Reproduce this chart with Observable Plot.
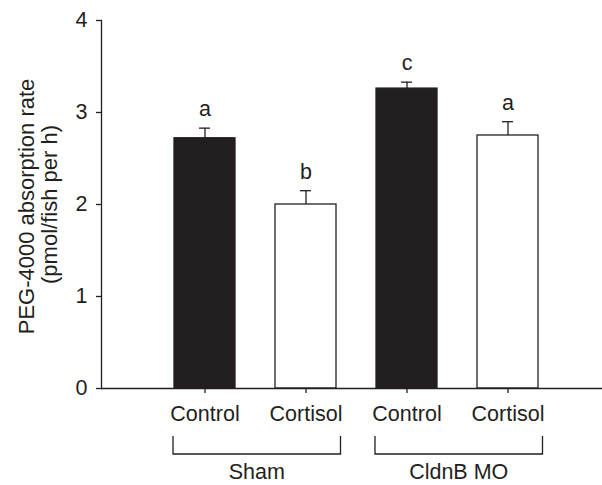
<!DOCTYPE html>
<html><head><meta charset="utf-8">
<script src="https://cdn.jsdelivr.net/npm/d3@7"></script>
<script src="https://cdn.jsdelivr.net/npm/@observablehq/plot@0.6"></script>
<style>body{margin:0;background:#fff}</style>
</head><body><div id="chart"></div>
<script>
// ---- data ----
const groups = ["Sham", "CldnB MO"];
const treatments = ["Control", "Cortisol"];
const means = [2.72, 2.00, 3.26, 2.75];
const sems = [0.11, 0.15, 0.07, 0.15];
const letters = ["a", "b", "c", "a"];
const yTicks = [0, 1, 2, 3, 4];
const yLabelLines = ["PEG-4000 absorption rate", "(pmol/fish per h)"];

const data = means.map((m, i) => ({
  group: groups[Math.floor(i / 2)],
  treatment: treatments[i % 2],
  id: groups[Math.floor(i / 2)] + "|" + treatments[i % 2],
  mean: m,
  top: m + sems[i],
  letter: letters[i]
}));
const ids = data.map(d => d.id);
const INK = "#231f20";
const FS = 21.5;

function brackets(index, scales, values, dimensions) {
  const x = scales.x, y = scales.y, bw = x.bandwidth();
  const y0 = y(0);
  const g = d3.create("svg:g");
  for (const grp of groups) {
    const members = data.filter(d => d.group === grp);
    const x1 = x(members[0].id) - 1, x2 = x(members[members.length - 1].id) + bw + 4.5;
    g.append("path")
      .attr("d", `M${x1},${y0 + 48}V${y0 + 66}H${x2}V${y0 + 48}`)
      .attr("fill", "none").attr("stroke", INK).attr("stroke-width", 1.3);
    g.append("text")
      .attr("x", (x1 + x2) / 2).attr("y", y0 + 91)
      .attr("text-anchor", "middle").attr("fill", INK)
      .attr("font-size", FS)
      .text(grp);
  }
  return g.node();
}

const chart = Plot.plot({
  width: 602,
  height: 485,
  marginLeft: 101,
  marginRight: 0,
  marginTop: 20,
  marginBottom: 97,
  style: {fontFamily: "'Liberation Sans', Arial, Helvetica, sans-serif", fontSize: FS + "px", color: INK, background: "#fff", overflow: "visible"},
  x: {domain: ids, paddingInner: 0.392, paddingOuter: 0.654, align: 0.535},
  y: {domain: [0, 4]},
  marks: [
    Plot.axisY({ticks: yTicks, tickFormat: d => String(d), tickSize: 5, tickPadding: 9, fontSize: FS, label: null, stroke: INK, strokeWidth: 1.3}),
    Plot.axisX({tickSize: 5, tickPadding: 12, fontSize: FS, label: null, tickFormat: id => id.split("|")[1], stroke: INK, strokeWidth: 1.3}),
    Plot.barY(data, {x: "id", y: "mean", fill: d => d.treatment === "Control" ? INK : "#fff", stroke: INK, strokeWidth: 1.3}),
    Plot.ruleX(data, {x: "id", y1: "mean", y2: "top", stroke: INK, strokeWidth: 1.3}),
    Plot.tickY(data, {x: "id", y: "top", stroke: INK, strokeWidth: 1.3, insetLeft: 25, insetRight: 25}),
    Plot.text(data, {x: "id", y: "top", text: "letter", dy: -12, lineAnchor: "bottom", fontSize: FS, fill: INK}),
    Plot.ruleY([0], {stroke: INK, strokeWidth: 1.3}),
    Plot.frame({anchor: "left", stroke: INK, strokeWidth: 1.3}),
    Plot.text([yLabelLines[0]], {frameAnchor: "left", textAnchor: "middle", rotate: -90, dx: -68, dy: 2, lineAnchor: "bottom", fontSize: 22, fill: INK}),
    Plot.text([yLabelLines[1]], {frameAnchor: "left", textAnchor: "middle", rotate: -90, dx: -44.5, dy: 0, lineAnchor: "bottom", fontSize: 22, fill: INK}),
    brackets
  ]
});
document.getElementById("chart").appendChild(chart);
</script>
</body></html>
